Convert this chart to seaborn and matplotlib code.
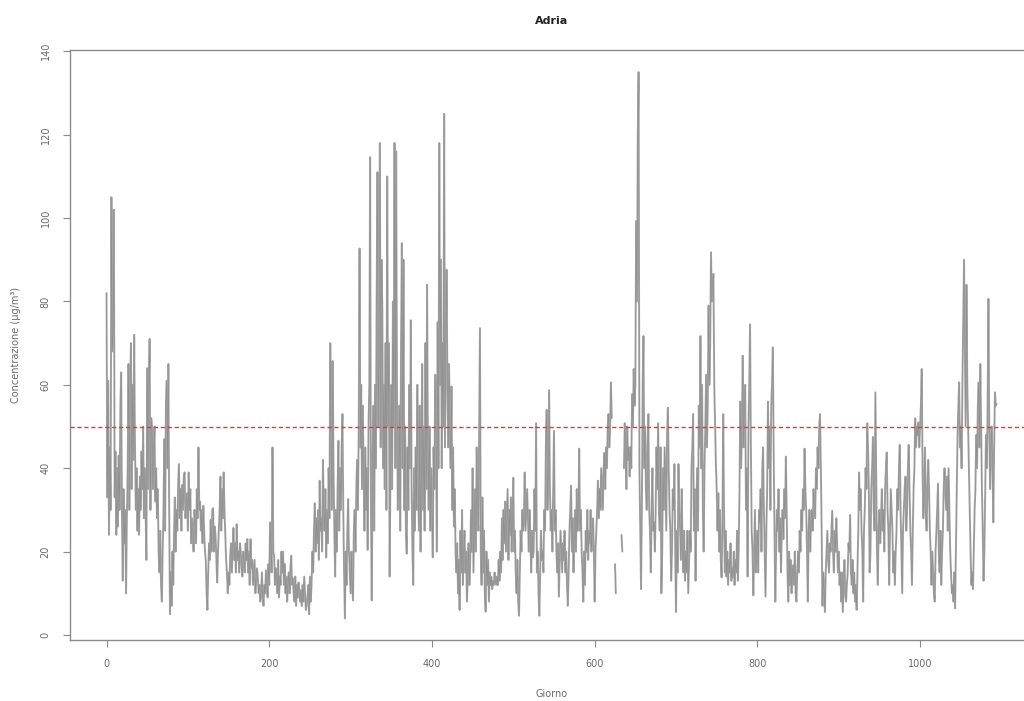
import numpy as np
import pandas as pd
import matplotlib
matplotlib.use("Agg")
import matplotlib.pyplot as plt
import seaborn as sns

nan = np.nan

# Daily PM10 concentration at Adria (µg/m³)
conc_part1 = [  # days 0-299
    82, 33, 61, 24, 45, 30, 105, 68, 72, 102,
    33, 44, 24, 40, 26, 43, 30, 55, 63, 28,
    13, 35, 22, 30, 10, 28, 40, 65, 30, 58,
    70, 35, 60, 42, 72, 45, 30, 40, 25, 35,
    24, 38, 30, 44, 35, 50, 28, 40, 30, 18,
    64, 35, 60, 71, 30, 52, 49, 35, 45, 50,
    32, 40, 28, 35, 20, 15, 25, 12, 8, 20,
    30, 47, 25, 55, 61, 40, 65, 30, 5, 15,
    7, 20, 12, 25, 33, 20, 30, 25, 36, 41,
    28, 35, 25, 36, 30, 38, 39, 28, 32, 34,
    25, 39, 30, 35, 22, 28, 25, 20, 30, 28,
    22, 35, 28, 45, 30, 32, 25, 30, 22, 31,
    25, 20, 18, 10, 6, 15, 22, 18, 27.6, 20,
    30, 30.4, 20, 26, 24, 18, 12.6, 20, 25, 30,
    38, 25, 35, 28, 39, 30, 24, 18, 15, 10,
    15, 12, 19, 22, 15, 20, 25.7, 18, 22, 15,
    26.6, 18, 20, 15, 22, 20, 16, 14, 20, 18,
    15, 22, 18, 23, 15, 20, 12, 23, 16, 18,
    12, 15, 18, 10, 14, 16, 13.6, 10, 12, 8,
    10, 15, 9, 7, 12, 10, 15.5, 12, 9, 17,
    12, 27, 20, 15, 45, 20, 19, 12, 16, 14,
    10, 18, 9, 14, 12, 20, 15, 20, 12, 17,
    10, 14, 8, 12, 15, 10, 16, 19, 12, 13.6,
    10, 8, 14, 7, 12, 9, 12.6, 10, 8, 10.8,
    7, 12, 8, 14, 10, 6, 7, 9, 12, 5,
    14, 8, 12, 20, 15, 25, 31.6, 20, 28, 22,
    30, 18, 37, 25, 28, 20, 42, 30, 25, 35,
    18.6, 30, 22, 40, 28, 70, 45, 30, 65.7, 40,
    25, 14, 30, 20, 35, 46.6, 25, 40, 30, 45,
    53, 30, 15, 4, 20, 12, 25, 32.6, 20, 15,
]
conc_part2 = [  # days 300-599
    10, 20, 12, 8.3, 25, 30, 20, 35, 42, 30,
    50, 92.7, 45, 60, 35, 55, 40, 25, 45, 30,
    40, 20.4, 50, 60, 114.6, 30, 8.3, 40, 55, 25,
    60, 40, 80, 111, 50, 70, 118, 45, 90, 78,
    40, 60, 35, 70, 30, 110, 50, 70, 14, 40,
    60, 35, 80, 50, 118, 40, 116, 60, 30, 37,
    55, 25, 70, 94, 40, 90, 30, 50, 25, 19.5,
    45, 30, 60, 40, 75.5, 35, 20, 12, 40, 25,
    45, 30, 60, 35, 25, 55, 20, 40, 65, 30,
    50, 25, 70, 35, 84, 45, 30, 50, 25, 40,
    30, 18.6, 45, 35, 62.4, 50, 20, 75, 40, 118,
    60, 90, 40, 70, 50, 125, 45, 70, 87.6, 60,
    45, 65, 50, 40, 59.6, 30, 45, 26, 35, 20,
    15, 22, 10, 18, 6, 25, 15, 30, 12, 20,
    25, 15, 20, 8, 14, 22, 12, 18, 30, 20,
    40, 15, 25, 35, 20, 45, 30, 25, 50, 73.6,
    20, 12, 33, 15, 25, 10, 5.6, 20, 12, 18,
    8, 15, 12, 14, 11, 13, 12, 15, 13, 12,
    14, 12, 18, 13, 20, 15, 28, 18, 30, 22,
    32, 20, 28, 35, 18, 30, 24, 33, 20, 28,
    37.7, 20, 25, 15, 10, 18, 8, 4.6, 15, 25,
    20, 30, 25, 28, 39, 25, 30, 35, 28, 20,
    30, 22, 15, 25, 18.6, 20, 35, 25, 50.8, 15,
    20, 10, 4.6, 15, 25, 18, 20, 15, 30, 25,
    45, 54, 30, 40, 58.7, 35, 25, 30, 20, 35,
    49, 25, 30, 20, 15, 22, 9.2, 18, 25, 20,
    15, 22, 18, 25, 15, 20, 12, 7, 15, 25,
    30, 35.8, 20, 28, 15, 25, 30, 20, 35, 25,
    30, 44.7, 25, 30, 20, 15, 8, 20, 12, 25,
    20, 30, 18, 25, 22, 30, 20, 25, 28, 20,
]
conc_part3 = [  # days 600-899
    8, 20, 25, 30, 37, 28, 35, 30, 40, 35,
    30, 40, 43.7, 35, 45, 40, 50, 53, 45, 50,
    60.6, 52, nan, nan, nan, 17, 10, nan, nan, nan,
    nan, nan, nan, 24, 20, nan, 40, 50.8, 45, 35,
    50, 42, 45, 38, 45, 40, 57.8, 50, 63.8, 55,
    60, 99.3, 80, 120, 135, 40, 25, 11, 30, 60,
    71.7, 40, 50, 35, 30, 45, 53, 30, 25, 15,
    30, 40, 25, 27, 20, 30, 45, 35, 50.8, 30,
    25, 45, 10, 20, 40, 30, 45, 35, 25, 48,
    54.5, 40, 30, 25, 13, 20, 35, 30, 41, 20,
    5.5, 25, 15, 41, 30, 25, 18, 35, 20, 15,
    25, 13, 20, 15, 25, 10, 18, 25, 20, 40,
    45, 53, 25, 35, 13, 30, 40, 25, 55, 45,
    71.7, 40, 60, 30, 20, 40, 50, 62.4, 45, 55,
    79, 60, 70, 91.8, 80, 85, 86.6, 60, 50, 41,
    35, 25, 34, 20, 30, 18, 13.8, 25, 53, 30,
    15, 25, 14, 20, 12, 18, 15, 22, 13, 16,
    14, 20, 12, 18, 15, 25, 13, 20, 35, 56,
    40, 50, 67, 45, 55, 60, 30, 40, 14, 50,
    60, 74.5, 45, 25, 20, 9.5, 20, 30, 15, 19,
    25, 15, 30, 27, 35, 20, 40, 45, 30, 20,
    9.2, 25, 35, 56, 40, 50, 30, 55, 60, 69,
    45, 25, 8, 20, 30, 25, 35, 20, 28, 15,
    25, 30, 23, 35, 28, 42.8, 30, 15, 8, 20,
    12, 18, 10, 15, 16.7, 12, 20, 10, 8, 15,
    20, 15, 25, 20, 30, 25, 35, 30, 44.7, 35,
    30, 20, 8, 25, 30, 20, 28, 30, 25, 35,
    30, 28, 40, 35, 45, 40, 50, 53, 40, 25,
    7, 15, 10, 5.5, 15, 20, 25, 18, 15, 22,
    20, 25, 29.8, 20, 15, 25, 20, 28, 22, 15,
]
conc_part4 = [  # days 900-1094
    20, 12, 15, 8, 15, 5.5, 12, 18, 10, 8,
    12, 15, 22, 20, 28.8, 15, 12, 18, 10, 15,
    8, 12, 6, 15, 25, 39, 30, 35, 25, 20,
    8, 25, 30, 40, 35, 50.8, 45, 35, 15, 20,
    35, 40, 47.5, 30, 25, 58.2, 40, 20, 12, 25,
    30, 22, 28, 35, 25, 30, 20, 35, 40, 43.8,
    30, 25, 12, 25, 35, 30, 25, 15, 20, 12,
    20, 25, 35, 30, 40, 45.6, 30, 20, 10, 25,
    30, 35, 38, 25, 30, 40, 45.6, 35, 25, 20,
    12, 25, 35, 40, 52, 45, 50, 48, 51, 45,
    50, 55, 63.8, 40, 28, 35, 45, 30, 25, 35,
    42, 35, 25, 20, 12, 20, 15, 10, 8, 20,
    25, 30, 36.3, 20, 15, 25, 12, 20, 25, 35,
    40, 35, 30, 38, 25, 40, 30, 20, 15, 10,
    12, 8, 15, 6.4, 20, 35, 47.5, 55, 60.6, 45,
    50, 40, 60, 75, 90, 70, 50, 84, 60, 50,
    40, 30, 20, 12, 15, 11, 20, 30, 35, 48,
    40, 55, 60.6, 45, 65, 50, 35, 25, 13, 20,
    35, 48, 40, 55, 80.6, 50, 35, 45, 50, 40,
    27, 45, 58.2, 55, 55.4,
]
limit_value = 50
x_ticks = [0, 200, 400, 600, 800, 1000]
y_ticks = [0, 20, 40, 60, 80, 100, 120, 140]
title = "Adria"
x_label = "Giorno"
y_label = "Concentrazione (µg/m³)"

conc = conc_part1 + conc_part2 + conc_part3 + conc_part4
df = pd.DataFrame({"giorno": np.arange(len(conc)), "conc": conc})
# break the line at missing days
df["tratto"] = df["conc"].isna().cumsum()
df = df.dropna()

sns.set_style("ticks")
plt.rcParams["font.family"] = ["DejaVu Sans"]

fig = plt.figure(figsize=(10.24, 7.01), dpi=100)
ax = fig.add_axes([70 / 1024, 61 / 701, 964 / 1024, 590 / 701])

grey_txt = "#6a6a6a"
sns.lineplot(data=df, x="giorno", y="conc", units="tratto", ax=ax, color="#a6a6a6",
             linewidth=1.4, estimator=None, sort=False)
sns.lineplot(data=df, x="giorno", y="conc", units="tratto", ax=ax, color="#202020",
             linewidth=0.4, alpha=0.18, estimator=None, sort=False)
ax.axhline(limit_value, color="#ff2a2a", linestyle=(0, (3, 2)), linewidth=1.0, zorder=5)

ax.set_xlim(-44.9, 1140)
ax.set_ylim(-1.2, 140.3)
ax.set_xticks(x_ticks)
ax.set_yticks(y_ticks)
ax.set_xticklabels([str(v) for v in x_ticks], fontsize=7, color=grey_txt)
ax.set_yticklabels([str(v) for v in y_ticks], fontsize=7, color=grey_txt,
                   rotation=90, va="center")
ax.tick_params(axis="both", direction="out", length=5, width=0.8, color="#8a8a8a")
ax.tick_params(axis="x", pad=9)
ax.tick_params(axis="y", pad=9)

for side in ["left", "bottom", "top", "right"]:
    ax.spines[side].set_visible(True)
    ax.spines[side].set_color("#8a8a8a")
    ax.spines[side].set_linewidth(1.0)

ax.set_xlabel(x_label, fontsize=7, color=grey_txt, labelpad=14)
ax.set_ylabel(y_label, fontsize=7, color=grey_txt, labelpad=14)
ax.set_title(title, fontsize=8, fontweight="bold", color="#222222", pad=19)

fig.savefig("out.png", dpi=100)
